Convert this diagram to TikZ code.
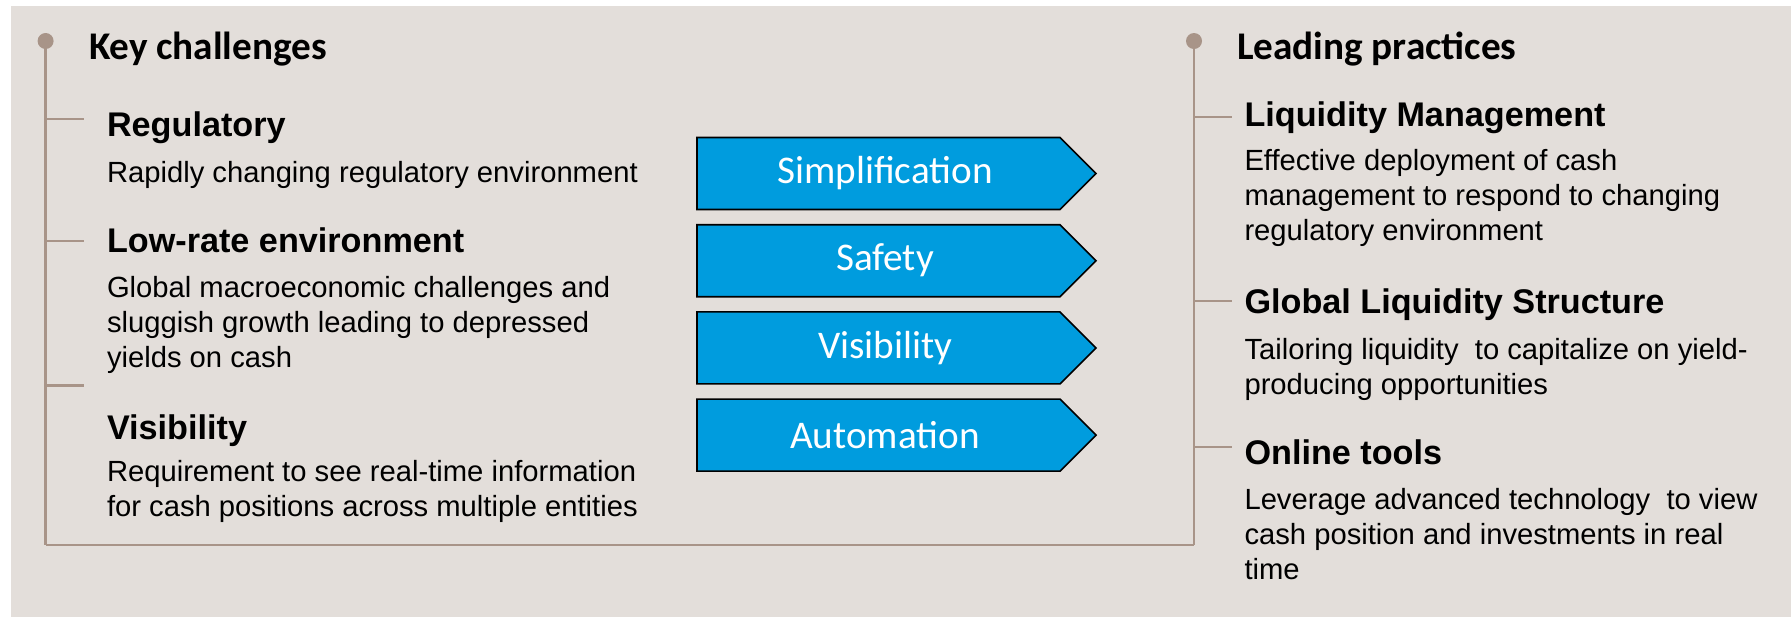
\documentclass[tikz,border=0pt]{standalone}
\usepackage{fontspec}
\setmainfont{Liberation Sans}
\newfontfamily\calibri{Carlito}
\usetikzlibrary{shapes.symbols}

\definecolor{bgbeige}{RGB}{227,222,218}
\definecolor{treeline}{RGB}{168,148,136}
\definecolor{signblue}{RGB}{0,156,222}

\begin{document}
\begin{tikzpicture}[x=0.5pt, y=-0.5pt,
  every node/.style={inner sep=0pt, outer sep=0pt},
  branch/.style={draw=treeline, line width=1.35pt},
  knob/.style={circle, fill=treeline, minimum size=8pt},
  title/.style={anchor=base west, font=\calibri\bfseries\fontsize{19.6}{23}\selectfont},
  head/.style={anchor=base west, font=\bfseries\fontsize{17.1}{20.5}\selectfont},
  body/.style={anchor=base west, align=left, font=\fontsize{14.6}{17.5}\selectfont},
  signbox/.style={signal, signal to=east, signal pointer angle=90, draw=black,
    line width=0.8pt, fill=signblue, text=white, minimum width=199.5pt,
    minimum height=36pt, font=\calibri\fontsize{19.6}{23}\selectfont}]

% ===== Canvas =====
\useasboundingbox (0,0) rectangle (1791,617);
\fill[bgbeige] (11,6) rectangle (1791,617);

% ===== Parameters =====
\def\xLeft{45.6}     % x of left tree line
\def\xRight{1194}    % x of right tree line
\def\yBottom{545}    % y of bottom line
\def\tick{38}        % length of branch ticks

% ===== Left tree: key challenges =====
\node[knob] (dotL) at (\xLeft,41) {};
\coordinate (cornerL) at (\xLeft,\yBottom);
\draw[branch] (dotL.center) -- (cornerL);
\foreach \y [count=\i] in {119,241,385.5} {
    \coordinate (tL\i) at (\xLeft,\y);
    \coordinate (eL\i) at (\xLeft+\tick,\y);
    \draw[branch] (tL\i) -- (eL\i);
}

% ===== Right tree: leading practices =====
\node[knob] (dotR) at (\xRight,41) {};
\coordinate (cornerR) at (\xRight,\yBottom);
\draw[branch] (dotR.center) -- (cornerR);
\draw[branch] (cornerL) -- (cornerR);
\foreach \y [count=\i] in {117,301,447} {
    \coordinate (tR\i) at (\xRight,\y);
    \coordinate (eR\i) at (\xRight+\tick,\y);
    \draw[branch] (tR\i) -- (eR\i);
}

% ===== Left texts (body nodes sit on their last baseline) =====
\node[title] (keyT) at (89,59) {Key challenges};
\node[head] (regH) at (107,136) {Regulatory};
\node[body] (regB) at (107,182) {Rapidly changing regulatory environment};
\node[head] (lowH) at (107,252) {Low-rate environment};
\node[body] (lowB) at (107,367) {Global macroeconomic challenges and\\
    sluggish growth leading to depressed\\ yields on cash};
\node[head] (visH) at (107,439) {Visibility};
\node[body] (visB) at (107,516) {Requirement to see real-time information\\
    for cash positions across multiple entities};

% ===== Middle signposts =====
\foreach \lbl [count=\i] in {Simplification,Safety,Visibility,Automation} {
    \pgfmathsetmacro\y{173.5+(\i-1)*87.2}
    \node[signbox] (sign\i) at (878.5,\y) {\hspace*{6.5pt}\lbl};
}

% ===== Right texts =====
\node[title] (leadT) at (1237,59) {Leading practices};
\node[head] (liqH) at (1244.5,126) {Liquidity Management};
\node[body] (liqB) at (1244.5,240) {Effective deployment of cash\\
    management to respond to changing\\ regulatory environment};
\node[head] (gloH) at (1244.5,313) {Global Liquidity Structure};
\node[body] (gloB) at (1244.5,394) {Tailoring liquidity~ to capitalize on yield-\\
    producing opportunities};
\node[head] (onlH) at (1244.5,464.5) {Online tools};
\node[body] (onlB) at (1244.5,579) {Leverage advanced technology~ to view\\
    cash position and investments in real\\ time};

\end{tikzpicture}
\end{document}
